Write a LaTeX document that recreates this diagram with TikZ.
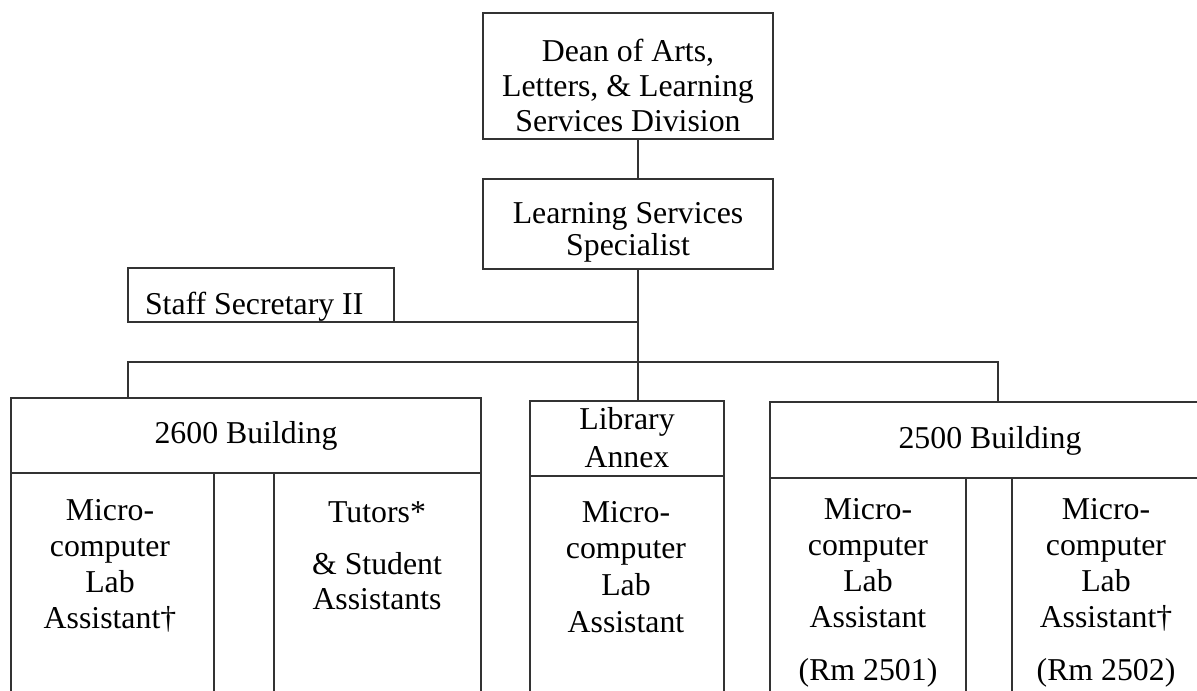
\documentclass[tikz,border=0pt]{standalone}
\usepackage{fontspec}
\setmainfont{Liberation Serif}
\newcommand\mystrut{\rule{0pt}{24bp}}
\begin{document}
\begin{tikzpicture}[x=1bp, y=-1bp,
  box/.style={draw=black!80, line width=1.1bp, rectangle, anchor=north west, inner sep=0pt, outer sep=0pt},
  conn/.style={draw=black!80, line width=1.1bp},
  txt/.style={align=center, inner sep=0pt, outer sep=0pt, font=\fontsize{31.8bp}{#1}\selectfont},
  txt/.default={36bp}]
\useasboundingbox (0,0) rectangle (1197,691);
\clip (0,0) rectangle (1197,691);
% boxes
\node[box, minimum width=290bp, minimum height=126bp] (dean) at (483,13) {};
\node[box, minimum width=290bp, minimum height=90bp] (lss) at (483,179) {};
\node[box, minimum width=266bp, minimum height=54bp] (staff) at (128,268) {};
\node[box, minimum width=470bp, minimum height=75bp] (h2600) at (11,398) {};
\node[box, minimum width=203bp, minimum height=260bp] (c2600a) at (11,473) {};
\node[box, minimum width=207bp, minimum height=260bp] (c2600b) at (274,473) {};
\node[box, minimum width=194bp, minimum height=75bp] (hlib) at (530,401) {};
\node[box, minimum width=194bp, minimum height=260bp] (clib) at (530,476) {};
\node[box, minimum width=440bp, minimum height=76bp] (h2500) at (770,402) {};
\node[box, minimum width=196bp, minimum height=260bp] (c2500a) at (770,478) {};
\node[box, minimum width=198bp, minimum height=260bp] (c2500b) at (1012,478) {};
% texts
\node[txt={34.5bp}, anchor=north] (tdean) at (628,38) {\mystrut Dean of Arts,\\Letters, \& Learning\\Services Division};
\node[txt={32bp}, anchor=north] (tlss) at (628,199) {\mystrut Learning Services\\Specialist};
\node[txt, anchor=base west] (tstaff) at (145,314) {Staff Secretary II};
\node[txt, anchor=base] (t2600) at (246,443) {2600 Building};
\node[txt={38bp}, anchor=north] (thlib) at (627,405) {\mystrut Library\\Annex};
\node[txt, anchor=base] (t2500) at (990,448) {2500 Building};
\node[txt={36bp}, anchor=north] (tca) at (110,496) {\mystrut Micro-\\computer\\Lab\\Assistant†};
\node[txt={35bp}, anchor=north] (tcb) at (377,498) {\mystrut Tutors*\\[17bp]\& Student\\Assistants};
\node[txt={36.7bp}, anchor=north] (tlib) at (626,498) {\mystrut Micro-\\computer\\Lab\\Assistant};
\node[txt={36.3bp}, anchor=north] (tc5a) at (868,495) {\mystrut Micro-\\computer\\Lab\\Assistant\\[16.5bp](Rm 2501)};
\node[txt={36.3bp}, anchor=north] (tc5b) at (1106,495) {\mystrut Micro-\\computer\\Lab\\Assistant†\\[16.5bp](Rm 2502)};
% connectors
\coordinate (trunk) at (638,362);
\coordinate (busL) at (128,362);
\coordinate (busR) at (998,362);
\draw[conn] (dean.south -| trunk) -- (lss.north -| trunk);
\draw[conn] (lss.south -| trunk) -- (hlib.north -| trunk);
\draw[conn] (staff.south east) -- (staff.south east -| trunk);
\draw[conn] (h2600.north -| busL) |- (busR) -- (h2500.north -| busR);
\end{tikzpicture}
\end{document}
